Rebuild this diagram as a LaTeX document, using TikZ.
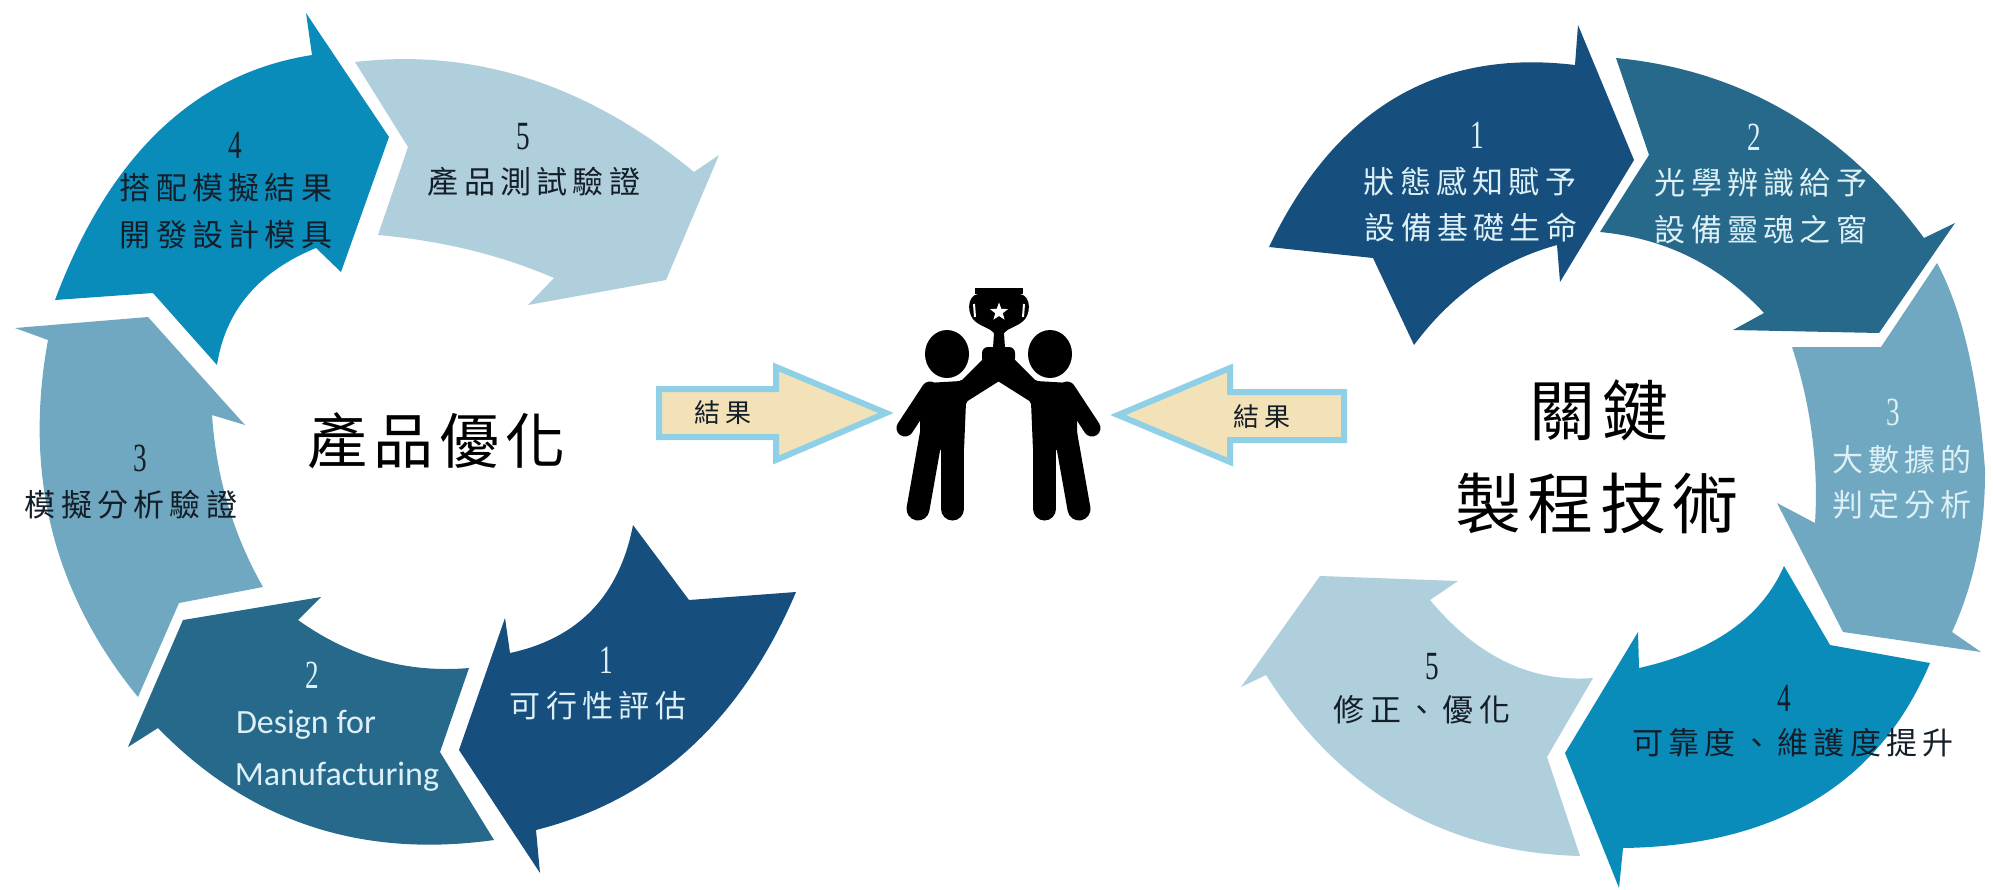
\documentclass[tikz,border=0pt]{standalone}
\usepackage{fontspec}
\usetikzlibrary{shapes.geometric}
\newfontfamily\cjk[LetterSpace=17]{Noto Sans CJK TC}
\newfontfamily\cjktitle[LetterSpace=10]{Noto Sans CJK TC}
\newfontfamily\dgfont[FakeStretch=0.68]{Liberation Serif}
\newfontfamily\latinf{Carlito}
\definecolor{c1}{HTML}{164E7E}
\definecolor{c2}{HTML}{27698B}
\definecolor{c3}{HTML}{6FA8C0}
\definecolor{c4}{HTML}{0A8CBB}
\definecolor{c5}{HTML}{B0CFDD}
\definecolor{lt}{HTML}{DDF0F6}
\definecolor{dk}{HTML}{141E28}
\definecolor{bord}{HTML}{8FD0E6}
\definecolor{pale}{HTML}{F3E2B8}
\tikzset{
  lbl/.style={inner sep=0pt,font=\fontsize{31}{36}\selectfont\cjk},
  num/.style={inner sep=0pt,font=\fontsize{40}{44}\selectfont\dgfont},
  ttl/.style={inner sep=0pt,font=\fontsize{60}{70}\selectfont\cjktitle},
  ttlb/.style={inner sep=0pt,font=\fontsize{66}{76}\selectfont\cjktitle},
  sm/.style={inner sep=0pt,font=\fontsize{26}{30}\selectfont\cjk,text=dk},
  latin/.style={inner sep=0pt,font=\fontsize{34}{38}\selectfont\latinf,text=lt},
  block/.style={draw=bord,fill=pale,line width=6pt,line join=miter}
}
% curve from the current point (x1,y1) through (xm,ym) to (x2,y2)
\def\qc#1#2#3#4#5#6{.. controls ({#1+2/3*(2*#3-(#1+#5)/2-#1)},{#2+2/3*(2*#4-(#2+#6)/2-#2)})
  and ({#5+2/3*(2*#3-(#1+#5)/2-#5)},{#6+2/3*(2*#4-(#2+#6)/2-#6)}) .. (#5,#6)}
\newcommand{\person}{%
  \fill[black] (947,354) ellipse (22 and 24);
  \fill[black,rounded corners=2pt] (927,383) -- (961,381) -- (984,358) -- (1004,356) -- (1004,378) -- (966,402)
    -- (964,450) -- (920,450) -- (920,420) -- cycle;
  \draw[black,line width=17pt,line cap=round] (930,390) -- (905,428);
  \draw[black,line width=23pt,line cap=round] (932,430) -- (918,509);
  \draw[black,line width=23pt,line cap=round] (952.5,430) -- (952.5,509);
  \fill[black,rounded corners=6pt] (982,347) rectangle (1010,364);
}
\begin{document}
\begin{tikzpicture}[x=1pt,y=-1pt]
\useasboundingbox (0,0) rectangle (1993,889);
\fill[white] (0,0) rectangle (1993,889);
% ---------- left cycle
\fill[c4] (55,300) -- (153,293) -- (217,365) \qc{217}{365}{248}{295}{316}{248}
  -- (341,272) -- (389,137) -- (306,13) -- (312,55) \qc{312}{55}{160}{130}{55}{300} -- cycle;
\fill[c5] (355,62) -- (408,147) -- (378,235) \qc{378}{235}{470}{250}{554}{278}
  -- (528,305) -- (666,280) -- (719,155) -- (694,172) \qc{694}{172}{530}{79}{355}{62} -- cycle;
\fill[c3] (15,328) -- (148,317) -- (245,425) -- (212,415) \qc{212}{415}{228}{505}{263}{587}
  -- (179,603) -- (138,697) \qc{138}{697}{52}{530}{48}{340} -- cycle;
\fill[c2] (469,668) \qc{469}{668}{380}{660}{298}{620}
  -- (321,597) -- (183,620) -- (128,747) -- (158,728) \qc{158}{728}{310}{826}{494}{840}
  -- (440,752) -- cycle;
\fill[c1] (796,592) -- (689,600) -- (633,525) \qc{633}{525}{592}{610}{510}{653}
  -- (505,618) -- (459,750) -- (540,873) -- (536,830) \qc{536}{830}{690}{748}{796}{592} -- cycle;
% ---------- right cycle
\fill[c1] (1269,247) -- (1373,258) -- (1414,345) \qc{1414}{345}{1478}{282}{1557}{245}
  -- (1560,282) -- (1634,160) -- (1578,25) -- (1575,65) \qc{1575}{65}{1395}{98}{1269}{247} -- cycle;
\fill[c2] (1616,58) -- (1649,155) -- (1600,232) \qc{1600}{232}{1690}{257}{1764}{313}
  -- (1733,330) -- (1879,333) -- (1955,223) -- (1924,238) \qc{1924}{238}{1787}{112}{1616}{58} -- cycle;
\fill[c3] (1937,263) -- (1881,347) -- (1792,347) \qc{1792}{347}{1812}{435}{1815}{523}
  -- (1777,503) -- (1843,632) -- (1981,652) -- (1952,632)
  \qc{1952}{632}{1977}{555}{1985}{470} \qc{1985}{470}{1968}{350}{1937}{263} -- cycle;
\fill[c4] (1930,663) -- (1830,645) -- (1784,566) \qc{1784}{566}{1731}{630}{1639}{668}
  -- (1638,632) -- (1565,753) -- (1619,888) -- (1623,848) \qc{1623}{848}{1815}{800}{1930}{663} -- cycle;
\fill[c5] (1593,678) \qc{1593}{678}{1506}{662}{1430}{600}
  -- (1458,581) -- (1320,576) -- (1241,687) -- (1266,675) \qc{1266}{675}{1400}{808}{1580}{856}
  -- (1547,757) -- cycle;
% ---------- result arrows
\draw[block] (659,389) -- (776,389) -- (776,367) -- (886,413) -- (776,460) -- (776,437) -- (659,437) -- cycle;
\draw[block] (1118,415) -- (1230,368) -- (1230,392) -- (1344,392) -- (1344,440) -- (1230,440) -- (1230,462) -- cycle;
% ---------- trophy and figures
\person
\begin{scope}[shift={(1997,0)},xscale=-1]
\person
\end{scope}
\fill[black] (975,288) rectangle (1023,294);
\fill[black] (978,294) .. controls (966,296) and (967,316) .. (976,322)
  .. controls (982,327) and (990,328) .. (994,333) -- (993,348) -- (1005,348) -- (1004,333)
  .. controls (1008,328) and (1016,327) .. (1022,322)
  .. controls (1031,316) and (1032,296) .. (1020,294) -- cycle;
\draw[white,line width=2pt] (974,304) -- (975,317) (1024,304) -- (1023,317);
\node[star,star points=5,star point ratio=2.4,fill=white,draw=none,minimum size=19pt,inner sep=0pt] (cupstar) at (999,312) {};
% ---------- texts, left cycle
\node[num,text=dk] (l4n) at (235,145) {4};
\node[lbl,text=dk] (l4a) at (226,188) {搭配模擬結果};
\node[lbl,text=dk] (l4b) at (226,235) {開發設計模具};
\node[num,text=dk] (l5n) at (523,137) {5};
\node[lbl,text=dk] (l5a) at (534,182) {產品測試驗證};
\node[num,text=dk] (l3n) at (140,458) {3};
\node[lbl,text=dk] (l3a) at (131,505) {模擬分析驗證};
\node[num,text=lt] (l2n) at (312,675) {2};
\node[latin] (l2a) at (306,725) {Design for};
\node[latin] (l2b) at (337,777) {Manufacturing};
\node[num,text=lt] (l1n) at (606,660) {1};
\node[lbl,text=lt] (l1a) at (598,706) {可行性評估};
\node[ttl,text=black] (ltitle) at (436,441) {產品優化};
% ---------- texts, right cycle
\node[num,text=lt] (r1n) at (1477,135) {1};
\node[lbl,text=lt] (r1a) at (1470,182) {狀態感知賦予};
\node[lbl,text=lt] (r1b) at (1471,228) {設備基礎生命};
\node[num,text=lt] (r2n) at (1754,137) {2};
\node[lbl,text=lt] (r2a) at (1761,183) {光學辨識給予};
\node[lbl,text=lt] (r2b) at (1761,230) {設備靈魂之窗};
\node[num,text=lt] (r3n) at (1893,412) {3};
\node[lbl,text=lt] (r3a) at (1902,460) {大數據的};
\node[lbl,text=lt] (r3b) at (1902,505) {判定分析};
\node[num,text=dk] (r4n) at (1784,698) {4};
\node[lbl,text=dk] (r4a) at (1793,743) {可靠度、維護度提升};
\node[num,text=dk] (r5n) at (1432,667) {5};
\node[lbl,text=dk] (r5a) at (1422,710) {修正、優化};
\node[ttlb,text=black] (rtitlea) at (1599,410) {關鍵};
\node[ttlb,text=black] (rtitleb) at (1597,503) {製程技術};
% ---------- arrow labels
\node[sm] (lres) at (723,413) {結果};
\node[sm] (rres) at (1262,417) {結果};
\end{tikzpicture}
\end{document}
